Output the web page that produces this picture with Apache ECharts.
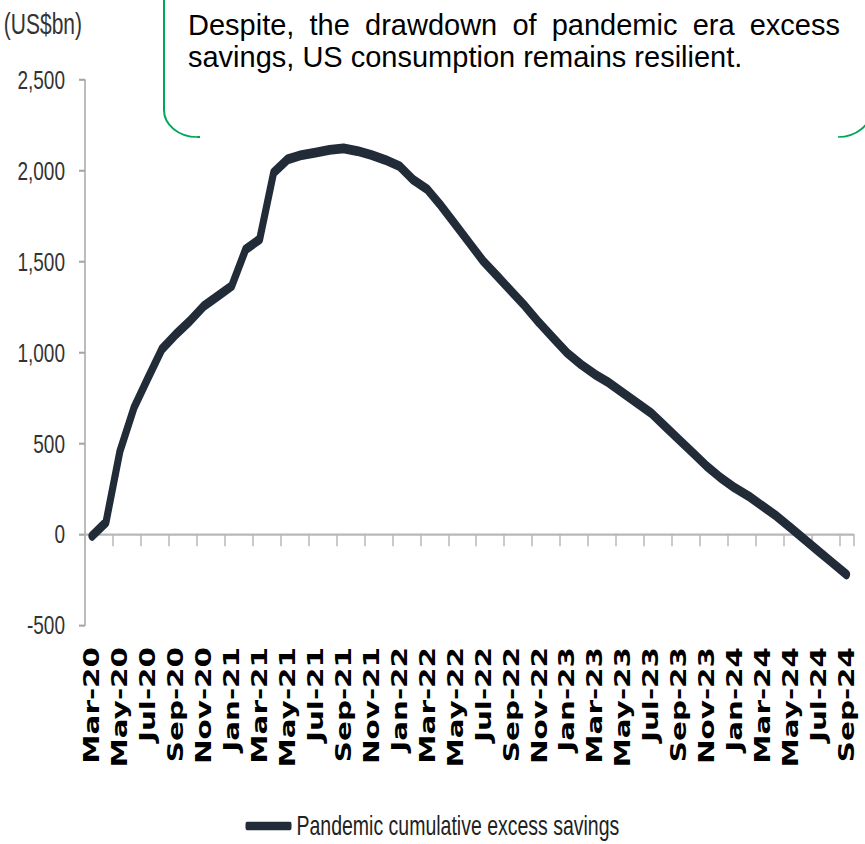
<!DOCTYPE html>
<html>
<head>
<meta charset="utf-8">
<title>Pandemic cumulative excess savings</title>
<script src="https://cdn.jsdelivr.net/npm/echarts@6/dist/echarts.min.js"></script>
<style>
  html, body { margin: 0; padding: 0; background: #ffffff; }
  body { width: 865px; height: 844px; }
  /* The chart is laid out at a reduced height and stretched vertically,
     giving the tall, narrow lettering of the printed exhibit. */
  #chart {
    width: 865px;
    height: 603px;
    transform: scaleY(1.39967);
    transform-origin: 0 0;
  }
</style>
</head>
<body>
<div id="chart"></div>
<script>
// Monthly categories, Mar-20 .. Sep-24
const months = [
  'Mar-20','Apr-20','May-20','Jun-20','Jul-20','Aug-20','Sep-20','Oct-20','Nov-20','Dec-20',
  'Jan-21','Feb-21','Mar-21','Apr-21','May-21','Jun-21','Jul-21','Aug-21','Sep-21','Oct-21','Nov-21','Dec-21',
  'Jan-22','Feb-22','Mar-22','Apr-22','May-22','Jun-22','Jul-22','Aug-22','Sep-22','Oct-22','Nov-22','Dec-22',
  'Jan-23','Feb-23','Mar-23','Apr-23','May-23','Jun-23','Jul-23','Aug-23','Sep-23','Oct-23','Nov-23','Dec-23',
  'Jan-24','Feb-24','Mar-24','Apr-24','May-24','Jun-24','Jul-24','Aug-24','Sep-24'
];

// Pandemic cumulative excess savings, US$bn
const excessSavings = [
  -10, 65, 457, 695, 858, 1018, 1100, 1173, 1255, 1310,
  1366, 1568, 1623, 1990, 2063, 2087, 2100, 2115, 2124, 2109, 2087, 2060,
  2026, 1950, 1898, 1806, 1705, 1604, 1503, 1421, 1338, 1255, 1164, 1081,
  998, 934, 879, 833, 778, 723, 668, 595, 521, 448, 374, 310,
  255, 209, 154, 99, 35, -29, -94, -158, -222
];

// Value axis range and step
const yMin = -500;
const yMax = 2500;
const yStep = 500;

const seriesName = 'Pandemic cumulative excess savings';
const unitLabel = '(US$bn)';
const noteLine1 = 'Despite, the drawdown of pandemic era excess';
const noteLine2 = 'savings, US consumption remains resilient.';

// Vertical stretch applied to the chart container (see CSS)
const SY = 844 / 603;
const vy = y => y / SY;   // page y -> chart y

const sansFont = '"Liberation Sans", Arial, sans-serif';
const monthFont = '"DejaVu Sans", Verdana, sans-serif';
const noteFontSize = 29;
const boxGreen = '#00a65a';

// Text element that keeps normal proportions inside the stretched chart
function noteText(text, x, y) {
  return {
    type: 'text',
    x: x,
    y: vy(y),
    scaleY: 1 / SY,
    style: {
      text: text,
      fontSize: noteFontSize,
      fontFamily: sansFont,
      fill: '#000000',
      align: 'left',
      verticalAlign: 'middle'
    }
  };
}

// First note line, fully justified between its margins
function justifiedWords(text, left, right, y) {
  const ctx = document.createElement('canvas').getContext('2d');
  ctx.font = noteFontSize + 'px ' + sansFont;
  const words = text.split(' ');
  const widths = words.map(w => ctx.measureText(w).width);
  const total = widths.reduce((a, b) => a + b, 0);
  const gap = (right - left - total) / (words.length - 1);
  let x = left;
  return words.map((w, i) => {
    const el = noteText(w, x, y);
    x += widths[i] + gap;
    return el;
  });
}

// Rounded corner of the note box (elliptical quarter arc)
function corner(cx, cy, rx, ry, startAngle, endAngle) {
  return {
    type: 'arc',
    x: cx,
    y: vy(cy),
    scaleY: (ry / rx) / SY,
    shape: { cx: 0, cy: 0, r: rx, startAngle: startAngle, endAngle: endAngle, clockwise: true },
    style: { fill: null, stroke: boxGreen, lineWidth: 2 }
  };
}

const boxOutline = [
  { type: 'polyline', shape: { points: [[164, vy(-5)], [164, vy(110)]] },
    style: { fill: null, stroke: boxGreen, lineWidth: 2 } },
  corner(197, 110, 33, 27, Math.PI / 2, Math.PI),
  { type: 'polyline', shape: { points: [[197, vy(137)], [200, vy(137)]] },
    style: { fill: null, stroke: boxGreen, lineWidth: 1.5 } },
  corner(838, 110, 33, 27, 0, Math.PI / 2)
];

const noteElements = justifiedWords(noteLine1, 188, 840, 25)
  .concat([noteText(noteLine2, 188, 57)])
  .concat(boxOutline);

const chart = echarts.init(document.getElementById('chart'), null, { renderer: 'svg' });

chart.setOption({
  animation: false,
  backgroundColor: '#ffffff',
  grid: {
    left: 85,
    right: 11.5,
    top: vy(80),
    bottom: vy(219),
    containLabel: false,
    outerBoundsMode: 'none'
  },
  legend: {
    data: [seriesName],
    left: 'center',
    top: vy(826) - 10,
    padding: 0,
    icon: 'roundRect',
    itemWidth: 46,
    itemHeight: 6,
    textStyle: { fontFamily: sansFont, fontSize: 19.5, color: '#222222' }
  },
  xAxis: {
    type: 'category',
    data: months,
    boundaryGap: true,
    axisLine: { onZero: true, lineStyle: { color: '#b8b8b8', width: 1.5 } },
    axisTick: { show: true, interval: 1, length: vy(12), lineStyle: { color: '#b8b8b8', width: 1.5 } },
    axisLabel: {
      interval: 1,
      rotate: 90,
      margin: vy(22),
      fontFamily: monthFont,
      fontWeight: 'bold',
      fontSize: 21,
      color: '#000000'
    },
    splitLine: { show: false }
  },
  yAxis: {
    type: 'value',
    min: yMin,
    max: yMax,
    interval: yStep,
    name: unitLabel,
    nameLocation: 'end',
    nameGap: vy(80 - 24),
    nameTextStyle: {
      fontFamily: sansFont,
      fontSize: 21,
      color: '#333333',
      align: 'right',
      verticalAlign: 'middle',
      padding: [0, 3, 0, 0]
    },
    axisLine: { show: true, lineStyle: { color: '#a6a6a6', width: 1.5 } },
    axisTick: { show: true, length: 6, lineStyle: { color: '#a6a6a6', width: 1.5 } },
    axisLabel: {
      margin: 20,
      fontFamily: sansFont,
      fontSize: 19,
      color: '#333333',
      formatter: v => v.toLocaleString('en-US')
    },
    splitLine: { show: false }
  },
  series: [
    {
      name: seriesName,
      type: 'line',
      data: excessSavings,
      showSymbol: false,
      symbol: 'none',
      smooth: false,
      itemStyle: { color: '#222b38' },
      lineStyle: { color: '#222b38', width: 7, cap: 'round', join: 'round' }
    }
  ],
  graphic: noteElements
});
</script>
</body>
</html>
